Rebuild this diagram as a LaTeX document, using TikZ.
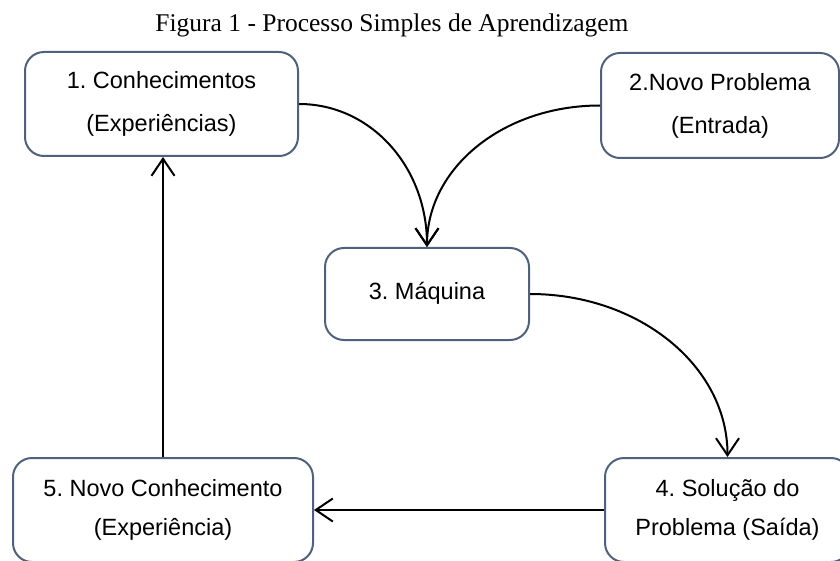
\documentclass[tikz,border=0pt]{standalone}
\usepackage{fontspec}
\setmainfont{Liberation Serif}
\newfontfamily\boxfont{Liberation Sans}
\usetikzlibrary{arrows.meta}
\definecolor{boxline}{RGB}{80,97,125}
\frenchspacing
\begin{document}
\begin{tikzpicture}[x=1pt,y=-1pt,
  box/.style={draw=boxline, line width=2pt, rounded corners=19pt, align=center, inner sep=0pt},
  toptext/.style={font=\boxfont\fontsize{23.5}{43}\selectfont},
  bottext/.style={font=\boxfont\fontsize{23.5}{39}\selectfont},
  conn/.style={line width=2pt, -{Straight Barb[length=17pt,width=23pt,line width=2pt]}}]
\useasboundingbox (0,0) rectangle (840,561);
\node[font=\fontsize{25.5}{28}\selectfont] (title) at (392,25) {Figura 1 - Processo Simples de Aprendizagem};
\node[box, toptext, minimum width=273pt, minimum height=104pt] (b1) at (161.5,104) {1. Conhecimentos\\(Experiências)};
\node[box, toptext, minimum width=238pt, minimum height=105pt] (b2) at (720,105.5) {2.Novo Problema\\(Entrada)};
\node[box, toptext, minimum width=204pt, minimum height=92pt] (b3) at (427,294) {\raisebox{6pt}{3. Máquina}};
\node[box, bottext, minimum width=245pt, minimum height=104pt] (b4) at (727.5,510) {4. Solução do\\Problema (Saída)};
\node[box, bottext, minimum width=300pt, minimum height=104pt] (b5) at (163,510) {5. Novo Conhecimento\\(Experiência)};
\draw[conn] (b1.east) .. controls +(72,0) and +(0,-80) .. (b3.north);
\draw[conn] (b2.west) .. controls +(-97,0) and +(0,-79) .. (b3.north);
\draw[conn] (b3.east) .. controls +(109,0) and +(0,-91) .. (b4.north);
\draw[conn] (b4.west) -- (b5.east);
\draw[conn] (b5.north) -- (b5.north |- b1.south);
\end{tikzpicture}
\end{document}
